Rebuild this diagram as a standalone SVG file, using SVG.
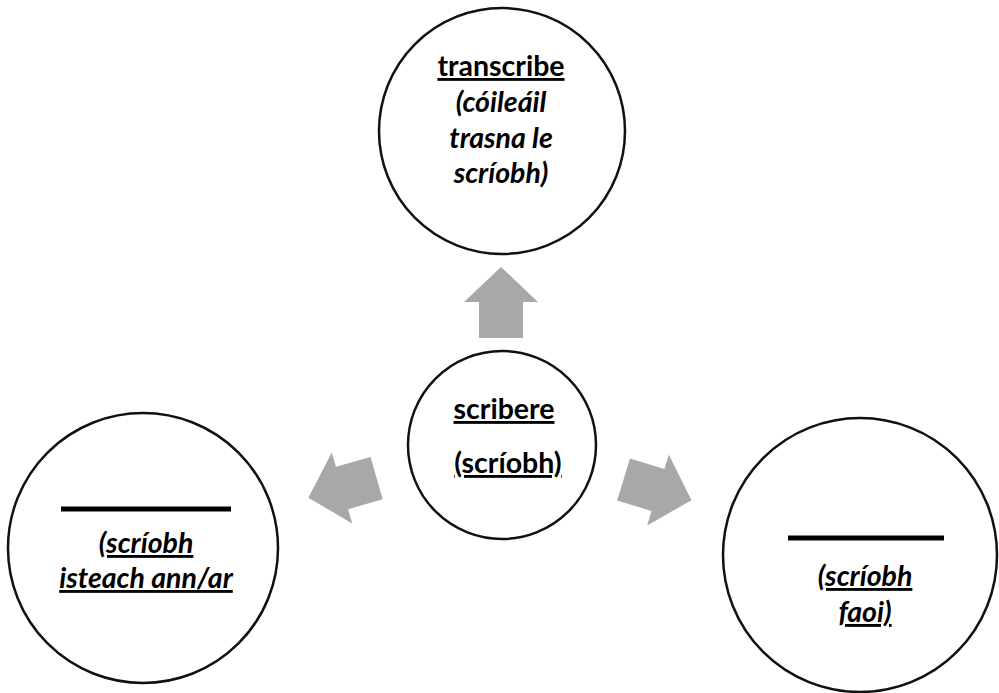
<svg xmlns="http://www.w3.org/2000/svg" width="999" height="693" viewBox="0 0 999 693">
<style>
.node{fill:#fff;stroke:#111;stroke-width:2.5}
.t{font-family:Lato,"Liberation Sans",sans-serif;font-weight:bold;font-size:28.5px;fill:#000;text-anchor:middle}
.i{font-style:italic}
.u{text-decoration:underline;text-decoration-skip-ink:none}
.bar{stroke:#000;stroke-width:5}
.arr{fill:#a8a8a8}
</style>
<defs>
<path id="arrow" d="M0,-35 L37,0 L22,0 L22,36 L-22,36 L-22,0 L-37,0 Z"/>
</defs>
<rect width="999" height="693" fill="#fff"/>
<g id="connectors">
<use href="#arrow" class="arr" transform="translate(501,302)"/>
<use href="#arrow" class="arr" transform="translate(342,488) rotate(-106)"/>
<use href="#arrow" class="arr" transform="translate(658,490) rotate(107)"/>
</g>
<g id="node-top">
<circle class="node" cx="502" cy="131" r="123"/>
<text class="t u" x="501" y="76">transcribe</text>
<text class="t i" x="501" y="112">(cóileáil</text>
<text class="t i" x="501" y="148">trasna le</text>
<text class="t i" x="501" y="183">scríobh)</text>
</g>
<g id="node-center">
<circle class="node" cx="502" cy="445" r="94"/>
<text class="t u" x="504" y="419">scribere</text>
<text class="t u" x="508" y="473">(scríobh)</text>
</g>
<g id="node-left">
<circle class="node" cx="143" cy="548" r="135"/>
<line class="bar" x1="61" y1="509" x2="231" y2="509"/>
<text class="t i u" x="146" y="553">(scríobh</text>
<text class="t i u" x="146" y="588">isteach ann/ar</text>
</g>
<g id="node-right">
<circle class="node" cx="860" cy="555" r="137"/>
<line class="bar" x1="788" y1="538" x2="944" y2="538"/>
<text class="t i u" x="865" y="586">(scríobh</text>
<text class="t i u" x="865" y="622">faoi)</text>
</g>
</svg>
